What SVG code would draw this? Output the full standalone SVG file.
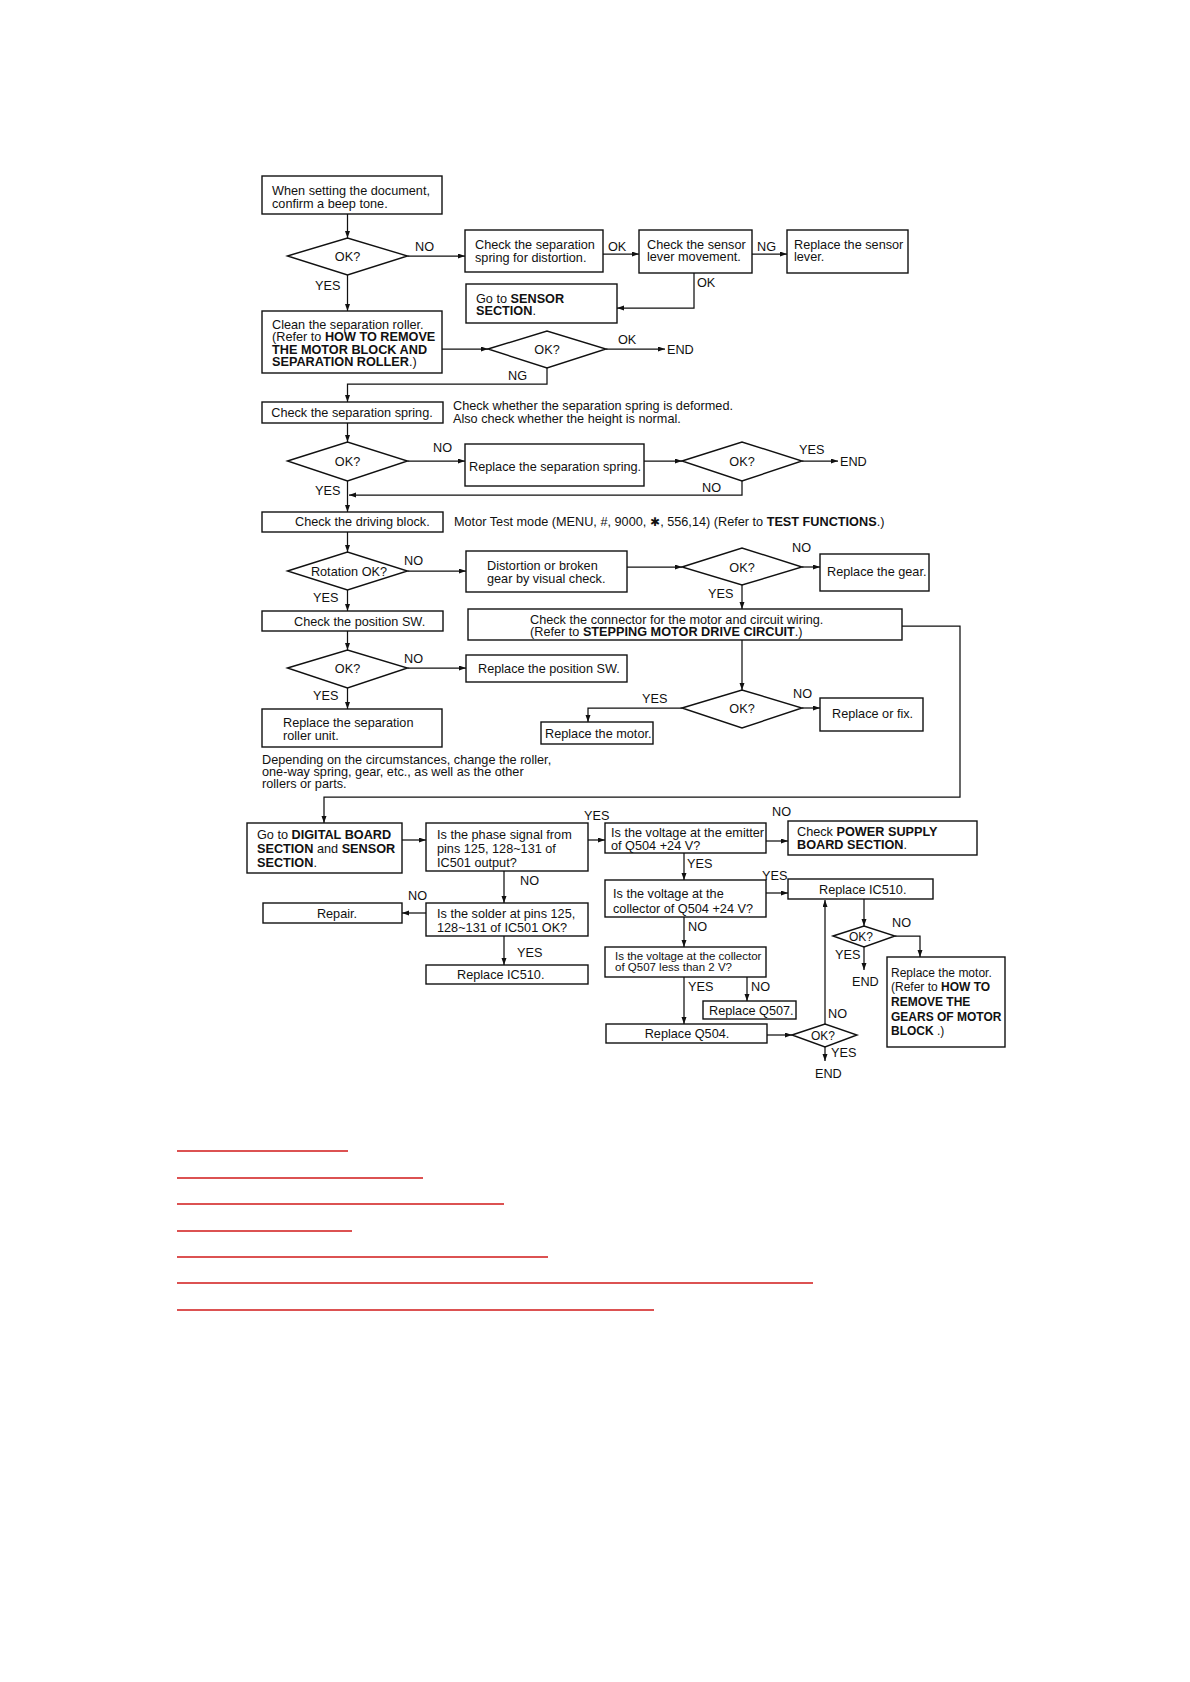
<svg xmlns="http://www.w3.org/2000/svg" width="1190" height="1682" viewBox="0 0 1190 1682">
<style>
.box{fill:#fff;stroke:#111;stroke-width:1.4}
.t{font-family:"Liberation Sans",Arial,sans-serif;font-size:12.7px;fill:#111}
.s{font-size:11.5px}
.m{font-size:12px}
.mb{font-size:12px}
.b{font-weight:bold}
.mid{text-anchor:middle}
.c{fill:none;stroke:#111;stroke-width:1.25}
.red{stroke:#d01818;stroke-width:1.6}
</style>
<defs>
<marker id="ah" markerUnits="userSpaceOnUse" markerWidth="8" markerHeight="6" refX="7" refY="2.5" orient="auto">
<path d="M0,0 L7,2.5 L0,5 z" fill="#111"/>
</marker>
</defs>
<rect width="1190" height="1682" fill="#fff"/>

<g id="connectors">
<path class="c" d="M347.5,214 V238" marker-end="url(#ah)"/>
<path class="c" d="M407.5,256 H465" marker-end="url(#ah)"/>
<path class="c" d="M603,254 H639" marker-end="url(#ah)"/>
<path class="c" d="M752,254 H787" marker-end="url(#ah)"/>
<path class="c" d="M694,273 V308 H617" marker-end="url(#ah)"/>
<path class="c" d="M347.5,275 V311" marker-end="url(#ah)"/>
<path class="c" d="M442,349 H488" marker-end="url(#ah)"/>
<path class="c" d="M606,349 H665" marker-end="url(#ah)"/>
<path class="c" d="M547,368 V384 H347.5 V402" marker-end="url(#ah)"/>
<path class="c" d="M347.5,423 V442" marker-end="url(#ah)"/>
<path class="c" d="M407.5,461 H465" marker-end="url(#ah)"/>
<path class="c" d="M644,461 H682" marker-end="url(#ah)"/>
<path class="c" d="M802,461 H838" marker-end="url(#ah)"/>
<path class="c" d="M742,481 V495 H349" marker-end="url(#ah)"/>
<path class="c" d="M347.5,481 V512" marker-end="url(#ah)"/>
<path class="c" d="M347.5,532 V552" marker-end="url(#ah)"/>
<path class="c" d="M407.5,571 H466" marker-end="url(#ah)"/>
<path class="c" d="M627,567 H682" marker-end="url(#ah)"/>
<path class="c" d="M802,567 H820" marker-end="url(#ah)"/>
<path class="c" d="M742,585 V609" marker-end="url(#ah)"/>
<path class="c" d="M347.5,590 V611" marker-end="url(#ah)"/>
<path class="c" d="M347.5,631 V650" marker-end="url(#ah)"/>
<path class="c" d="M407.5,668 H466" marker-end="url(#ah)"/>
<path class="c" d="M347.5,688 V709" marker-end="url(#ah)"/>
<path class="c" d="M742,640 V690" marker-end="url(#ah)"/>
<path class="c" d="M802,708 H820" marker-end="url(#ah)"/>
<path class="c" d="M682,708 H588 V722" marker-end="url(#ah)"/>
<path class="c" d="M902,626 H960 V797 H324 V823" marker-end="url(#ah)"/>
<path class="c" d="M402,840 H426" marker-end="url(#ah)"/>
<path class="c" d="M588,840 H605" marker-end="url(#ah)"/>
<path class="c" d="M766,841 H788" marker-end="url(#ah)"/>
<path class="c" d="M684,853 V880" marker-end="url(#ah)"/>
<path class="c" d="M766,893 H788" marker-end="url(#ah)"/>
<path class="c" d="M684,917 V947" marker-end="url(#ah)"/>
<path class="c" d="M504,871 V903" marker-end="url(#ah)"/>
<path class="c" d="M426,913 H402" marker-end="url(#ah)"/>
<path class="c" d="M504,936 V965" marker-end="url(#ah)"/>
<path class="c" d="M864,899 V926" marker-end="url(#ah)"/>
<path class="c" d="M895,936 H920 V957" marker-end="url(#ah)"/>
<path class="c" d="M864,947 V970" marker-end="url(#ah)"/>
<path class="c" d="M684,977 V1024" marker-end="url(#ah)"/>
<path class="c" d="M747,977 V1001" marker-end="url(#ah)"/>
<path class="c" d="M767,1035 H792" marker-end="url(#ah)"/>
<path class="c" d="M825,1024 V900" marker-end="url(#ah)"/>
<path class="c" d="M825,1047 V1061" marker-end="url(#ah)"/>
<g class="t">
<text x="415" y="251">NO</text>
<text x="608" y="251">OK</text>
<text x="757" y="251">NG</text>
<text x="697" y="286.5">OK</text>
<text x="315" y="290">YES</text>
<text x="618" y="344">OK</text>
<text x="508" y="379.5">NG</text>
<text x="433" y="451.5">NO</text>
<text x="799" y="454">YES</text>
<text x="702" y="491.5">NO</text>
<text x="315" y="494.5">YES</text>
<text x="404" y="564.5">NO</text>
<text x="792" y="551.5">NO</text>
<text x="708" y="597.5">YES</text>
<text x="313" y="601.5">YES</text>
<text x="404" y="662.5">NO</text>
<text x="313" y="699.5">YES</text>
<text x="793" y="697.5">NO</text>
<text x="642" y="702.5">YES</text>
<text x="584" y="819.5">YES</text>
<text x="772" y="815.5">NO</text>
<text x="687" y="867.5">YES</text>
<text x="762" y="879.5">YES</text>
<text x="688" y="930.5">NO</text>
<text x="520" y="884.5">NO</text>
<text x="408" y="899.5">NO</text>
<text x="517" y="956.5">YES</text>
<text x="892" y="926.5">NO</text>
<text x="835" y="958.5">YES</text>
<text x="688" y="990.5">YES</text>
<text x="751" y="990.5">NO</text>
<text x="828" y="1017.5">NO</text>
<text x="831" y="1056.5">YES</text>
</g>
</g>

<g id="n1"><rect class="box" x="262" y="176" width="180" height="38"/><text class="t" x="272" y="194.5">When setting the document,</text><text class="t" x="272" y="207.5">confirm a beep tone.</text></g>
<g id="d1"><polygon class="box" points="287.5,256 347.5,238 407.5,256 347.5,275"/><text class="t mid" x="347.5" y="260.5">OK?</text></g>
<g id="n2"><rect class="box" x="465" y="230" width="138" height="42"/><text class="t" x="475" y="249">Check the separation</text><text class="t" x="475" y="261.5">spring for distortion.</text></g>
<g id="n3"><rect class="box" x="639" y="230" width="113" height="43"/><text class="t" x="647" y="248.5">Check the sensor</text><text class="t" x="647" y="261">lever movement.</text></g>
<g id="n4"><rect class="box" x="787" y="230" width="121" height="43"/><text class="t" x="794" y="248.5">Replace the sensor</text><text class="t" x="794" y="261">lever.</text></g>
<g id="n5"><rect class="box" x="466" y="284" width="151" height="39"/><text class="t" x="476" y="302.5">Go to <tspan class="b">SENSOR</tspan></text><text class="t" x="476" y="315"><tspan class="b">SECTION</tspan>.</text></g>
<g id="n6"><rect class="box" x="262" y="311" width="180" height="62"/><text class="t" x="272" y="328.5">Clean the separation roller.</text><text class="t" x="272" y="341">(Refer to <tspan class="b">HOW TO REMOVE</tspan></text><text class="t b" x="272" y="353.5">THE MOTOR BLOCK AND</text><text class="t" x="272" y="365.5"><tspan class="b">SEPARATION ROLLER</tspan>.)</text></g>
<g id="d2"><polygon class="box" points="488,349 547,331 606,349 547,368"/><text class="t mid" x="547" y="353.5">OK?</text></g>
<g id="end1"><text class="t" x="667" y="354">END</text></g>
<g id="n7"><rect class="box" x="262" y="402" width="181" height="21"/><text class="t mid" x="352" y="417">Check the separation spring.</text></g>
<g id="note1"><text class="t" x="453" y="410">Check whether the separation spring is deformed.</text><text class="t" x="453" y="422.5">Also check whether the height is normal.</text></g>
<g id="d3"><polygon class="box" points="287.5,461 347.5,442 407.5,461 347.5,481"/><text class="t mid" x="347.5" y="465.5">OK?</text></g>
<g id="n8"><rect class="box" x="465" y="444" width="179" height="42"/><text class="t" x="469" y="471">Replace the separation spring.</text></g>
<g id="d5"><polygon class="box" points="682,461 742,442 802,461 742,481"/><text class="t mid" x="742" y="465.5">OK?</text></g>
<g id="end2"><text class="t" x="840" y="466">END</text></g>
<g id="n9"><rect class="box" x="262" y="512" width="181" height="20"/><text class="t" x="295" y="526">Check the driving block.</text></g>
<g id="note2"><text class="t" x="454" y="525.5" font-size="12.9">Motor Test mode (MENU, #, 9000,<tspan font-family="DejaVu Sans" font-size="12"> ✱</tspan>, 556,14) (Refer to <tspan class="b">TEST FUNCTIONS</tspan>.)</text></g>
<g id="d4"><polygon class="box" points="287.5,571 347.5,552 407.5,571 347.5,590"/><text class="t mid" x="349" y="575.5">Rotation OK?</text></g>
<g id="n10"><rect class="box" x="466" y="551" width="161" height="41"/><text class="t" x="487" y="570">Distortion or broken</text><text class="t" x="487" y="582.5">gear by visual check.</text></g>
<g id="d6"><polygon class="box" points="682,567 742,548 802,567 742,585"/><text class="t mid" x="742" y="571.5">OK?</text></g>
<g id="n11"><rect class="box" x="820" y="554" width="109" height="37"/><text class="t" x="827" y="576">Replace the gear.</text></g>
<g id="n12"><rect class="box" x="262" y="611" width="181" height="20"/><text class="t" x="294" y="625.5">Check the position SW.</text></g>
<g id="n13"><rect class="box" x="468" y="609" width="434" height="31"/><text class="t" x="530" y="623.5">Check the connector for the motor and circuit wiring.</text><text class="t" x="530" y="636">(Refer to <tspan class="b">STEPPING MOTOR DRIVE CIRCUIT</tspan>.)</text></g>
<g id="d7"><polygon class="box" points="287.5,668 347.5,650 407.5,668 347.5,688"/><text class="t mid" x="347.5" y="672.5">OK?</text></g>
<g id="n14"><rect class="box" x="466" y="655" width="161" height="27"/><text class="t" x="478" y="672.5">Replace the position SW.</text></g>
<g id="d8"><polygon class="box" points="682,708 742,690 802,708 742,728"/><text class="t mid" x="742" y="712.5">OK?</text></g>
<g id="n15"><rect class="box" x="820" y="698" width="103" height="33"/><text class="t" x="832" y="718">Replace or fix.</text></g>
<g id="n16"><rect class="box" x="541" y="722" width="112" height="22"/><text class="t" x="545" y="737.5">Replace the motor.</text></g>
<g id="n17"><rect class="box" x="262" y="709" width="180" height="38"/><text class="t" x="283" y="727">Replace the separation</text><text class="t" x="283" y="739.5">roller unit.</text></g>
<g id="note3"><text class="t" x="262" y="763.5">Depending on the circumstances, change the roller,</text><text class="t" x="262" y="775.5">one-way spring, gear, etc., as well as the other</text><text class="t" x="262" y="787.5">rollers or parts.</text></g>
<g id="n18"><rect class="box" x="247" y="823" width="155" height="50"/><text class="t" x="257" y="838.5">Go to <tspan class="b">DIGITAL BOARD</tspan></text><text class="t" x="257" y="852.5"><tspan class="b">SECTION</tspan> and <tspan class="b">SENSOR</tspan></text><text class="t" x="257" y="866.5"><tspan class="b">SECTION</tspan>.</text></g>
<g id="n19"><rect class="box" x="426" y="823" width="162" height="48"/><text class="t" x="437" y="838.5">Is the phase signal from</text><text class="t" x="437" y="852.5">pins 125, 128~131 of</text><text class="t" x="437" y="866.5">IC501 output?</text></g>
<g id="n20"><rect class="box" x="605" y="823" width="161" height="30"/><text class="t" x="611" y="836.5">Is the voltage at the emitter</text><text class="t" x="611" y="850">of Q504 +24 V?</text></g>
<g id="n21"><rect class="box" x="788" y="821" width="189" height="34"/><text class="t" x="797" y="835.5">Check <tspan class="b">POWER SUPPLY</tspan></text><text class="t" x="797" y="848.5"><tspan class="b">BOARD SECTION</tspan>.</text></g>
<g id="n22"><rect class="box" x="263" y="903" width="139" height="20"/><text class="t mid" x="337" y="917.5">Repair.</text></g>
<g id="n23"><rect class="box" x="426" y="903" width="162" height="33"/><text class="t" x="437" y="917.5">Is the solder at pins 125,</text><text class="t" x="437" y="932">128~131 of IC501 OK?</text></g>
<g id="n24"><rect class="box" x="426" y="965" width="162" height="19"/><text class="t" x="457" y="979">Replace IC510.</text></g>
<g id="n25"><rect class="box" x="605" y="880" width="161" height="37"/><text class="t" x="613" y="897.5">Is the voltage at the</text><text class="t" x="613" y="913">collector of Q504 +24 V?</text></g>
<g id="n26"><rect class="box" x="788" y="879" width="145" height="20"/><text class="t" x="819" y="893.5">Replace IC510.</text></g>
<g id="d9"><polygon class="box" points="833,936 864,926 895,936 864,947"/><text class="t m mid" x="861" y="940.5">OK?</text></g>
<g id="n27"><rect class="box" x="887" y="957" width="118" height="90"/><text class="t mb" x="891" y="976.5">Replace the motor.</text><text class="t mb" x="891" y="990.5">(Refer to <tspan class="b">HOW TO</tspan></text><text class="t b mb" x="891" y="1005.5">REMOVE THE</text><text class="t b mb" x="891" y="1020.5">GEARS OF MOTOR</text><text class="t mb" x="891" y="1034.5"><tspan class="b">BLOCK</tspan> .)</text></g>
<g id="end3"><text class="t" x="852" y="986">END</text></g>
<g id="n28"><rect class="box" x="605" y="947" width="161" height="30"/><text class="t s" x="615" y="959.5">Is the voltage at the collector</text><text class="t s" x="615" y="971">of Q507 less than 2 V?</text></g>
<g id="n29"><rect class="box" x="703" y="1001" width="93" height="18"/><text class="t" x="709" y="1014.5">Replace Q507.</text></g>
<g id="n30"><rect class="box" x="606" y="1024" width="161" height="19"/><text class="t mid" x="687" y="1038">Replace Q504.</text></g>
<g id="d10"><polygon class="box" points="792,1035 825,1024 857,1035 825,1047"/><text class="t m mid" x="823" y="1039.5">OK?</text></g>
<g id="end4"><text class="t" x="815" y="1078">END</text></g>

<g id="links">
<line class="red" x1="177" y1="1151" x2="348" y2="1151"/>
<line class="red" x1="177" y1="1178" x2="423" y2="1178"/>
<line class="red" x1="177" y1="1204" x2="504" y2="1204"/>
<line class="red" x1="177" y1="1231" x2="352" y2="1231"/>
<line class="red" x1="177" y1="1257" x2="548" y2="1257"/>
<line class="red" x1="177" y1="1283" x2="813" y2="1283"/>
<line class="red" x1="177" y1="1310" x2="654" y2="1310"/>
</g>
</svg>
